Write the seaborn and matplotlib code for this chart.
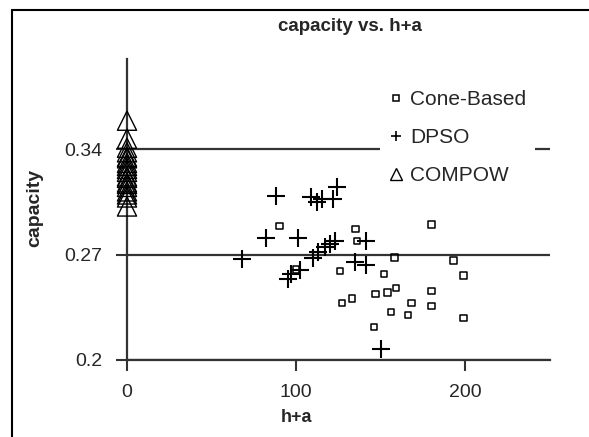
import numpy as np
import pandas as pd
import matplotlib
matplotlib.use("Agg")
import matplotlib.pyplot as plt
from matplotlib.lines import Line2D
import seaborn as sns

# Cone-Based (squares)
cone_x = [90, 100, 126, 127, 133, 135, 136, 146, 147, 152, 154, 156, 158, 159,
          166, 168, 180, 180, 180, 193, 199, 199]
cone_y = [0.289, 0.260, 0.259, 0.238, 0.241, 0.287, 0.279, 0.222, 0.244, 0.257,
          0.245, 0.232, 0.268, 0.248, 0.230, 0.238, 0.246, 0.236, 0.290, 0.266,
          0.256, 0.228]

# DPSO (plus signs)
dpso_x = [68, 82, 88, 95, 97, 101, 102, 109, 112, 115, 122, 124, 110, 113, 117,
          120, 123, 135, 141, 141, 150]
dpso_y = [0.267, 0.281, 0.309, 0.254, 0.257, 0.281, 0.260, 0.308, 0.305, 0.307,
          0.307, 0.315, 0.268, 0.272, 0.275, 0.277, 0.279, 0.265, 0.263, 0.279,
          0.207]

# COMPOW (triangles), all at h+a = 0
compow_y = [0.359, 0.347, 0.341, 0.338, 0.335, 0.334, 0.331, 0.329, 0.327, 0.325,
            0.322, 0.321, 0.318, 0.317, 0.315, 0.312, 0.310, 0.308, 0.302]
compow_x = [0] * len(compow_y)

x_ticks = [0, 100, 200]
y_ticks = [0.2, 0.27, 0.34]

sns.set_style("white")
plt.rcParams['font.family'] = ['Liberation Sans', 'DejaVu Sans']

W, H = 589, 437
fig = plt.figure(figsize=(W / 100, H / 100), dpi=100)
ax = fig.add_axes([127 / W, 1 - 360 / H, (550 - 127) / W, (360 - 59) / H])

sns.scatterplot(x=cone_x, y=cone_y, marker='s', s=22, facecolor='none',
                edgecolor='black', linewidth=1.1, ax=ax, clip_on=False, zorder=3)
sns.scatterplot(x=dpso_x, y=dpso_y, marker='+', s=160, color='black',
                linewidth=1.5, ax=ax, clip_on=False, zorder=3)
sns.scatterplot(x=compow_x, y=compow_y, marker='^', s=190, facecolor='none',
                edgecolor='black', linewidth=1.0, ax=ax, clip_on=False, zorder=3)

ax.set_xlim(0, 250)
ax.set_ylim(0.2, 0.4)
ax.set_xticks(x_ticks)
ax.set_yticks(y_ticks)
ax.set_xticklabels([str(v) for v in x_ticks])
ax.set_yticklabels([str(v) for v in y_ticks])

ax.yaxis.grid(True, color='#333333', linewidth=1.6)
ax.set_axisbelow(True)
for side in ['top', 'right']:
    ax.spines[side].set_visible(False)
for side in ['left', 'bottom']:
    ax.spines[side].set_color('#333333')
    ax.spines[side].set_linewidth(1.6)
ax.tick_params(direction='out', length=8, width=1.5, color='#333333',
               labelsize=14, left=True, bottom=True)
ax.tick_params(axis='x', pad=9)
ax.tick_params(axis='y', pad=10)

ax.set_title('capacity vs. h+a', fontsize=13.5, fontweight='bold',
             x=(350 - 127) / (550 - 127), pad=20)
ax.set_xlabel('h+a', fontsize=13, fontweight='bold')
ax.xaxis.set_label_coords((297 - 127) / (550 - 127), -(418 - 360) / (360 - 59))
ax.xaxis.label.set_va('center')
ax.set_ylabel('capacity', fontsize=14, fontweight='bold')
ax.yaxis.set_label_coords(-(127 - 35) / (550 - 127), (360 - 208) / (360 - 59))
ax.yaxis.label.set_va('center')

handles = [
    Line2D([], [], marker='s', linestyle='none', markersize=4.5, markerfacecolor='none',
           markeredgecolor='black', markeredgewidth=1.1),
    Line2D([], [], marker='+', linestyle='none', markersize=7, color='black',
           markeredgewidth=1.2),
    Line2D([], [], marker='^', linestyle='none', markersize=8.5, markerfacecolor='none',
           markeredgecolor='black', markeredgewidth=1.0),
]
leg = ax.legend(handles, ['Cone-Based', 'DPSO', 'COMPOW'], loc='upper left',
                bbox_to_anchor=(380 / W, 1 - 82 / H), bbox_transform=fig.transFigure,
                frameon=True, fontsize=15, handlelength=0.7, handletextpad=0.35,
                labelspacing=0.9, borderpad=0.4, borderaxespad=0, fancybox=False)
leg.get_frame().set_facecolor('white')
leg.get_frame().set_edgecolor('none')
leg.get_frame().set_alpha(1)

# chart-area border (left and top edges visible in the crop)
fig.add_artist(Line2D([12 / W, 12 / W], [0, 1 - 10 / H], color='black', lw=1.5))
fig.add_artist(Line2D([12 / W, 1], [1 - 10 / H, 1 - 10 / H], color='black', lw=1.5))

fig.savefig('out.png', dpi=100, facecolor='white')
